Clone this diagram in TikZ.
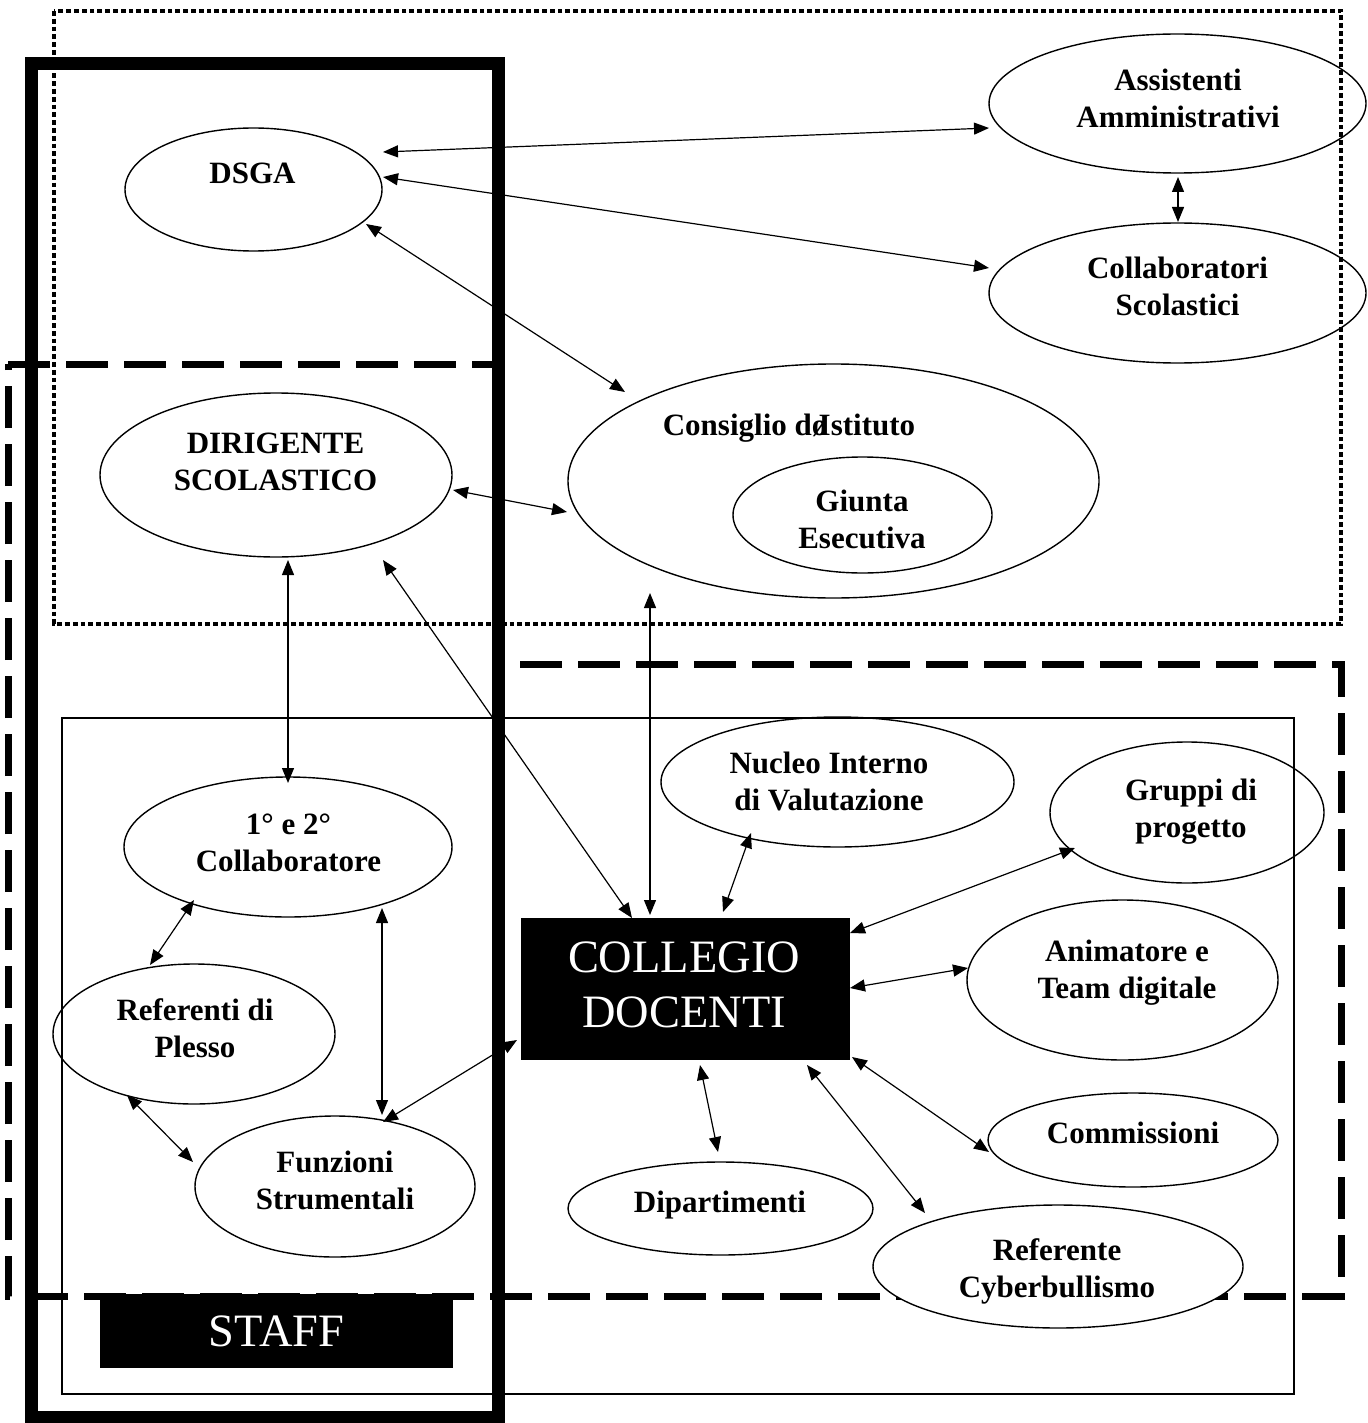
\documentclass[tikz,border=0pt]{standalone}
\usepackage{fontspec}
\setmainfont{Liberation Serif}
\usetikzlibrary{shapes.geometric,arrows.meta,calc}
\begin{document}
\begin{tikzpicture}[x=0.5pt,y=-0.5pt,
 ell/.style={ellipse,draw,line width=0.7pt,inner sep=0pt},
 lbl/.style={font=\fontsize{15.5}{18.5}\selectfont\bfseries,align=center,inner sep=0pt},
 bigt/.style={font=\fontsize{23.2}{27.5}\selectfont,align=center,inner sep=0pt,text=white},
 blackbox/.style={fill=black,inner sep=0pt},
 link/.style={line width=0.6pt,{Triangle[length=7.5pt,width=6pt]}-{Triangle[length=7.5pt,width=6pt]}},
 dotbox/.style={line width=2.4pt,dash pattern=on 2.4pt off 1.5pt},
 dashbox/.style={line width=3.5pt,dash pattern=on 21pt off 8pt},
 thinbox/.style={line width=0.6pt},
 thickbox/.style={line width=6.5pt}]
\fill[white] (0,0) rectangle (1368,1423);
\useasboundingbox (0,0) rectangle (1368,1423);

% frames
\draw[dotbox] (54,11) rectangle (1341,624);
\draw[dashbox] (8,364) -- (498,364) -- (498,664) -- (1341,664) -- (1341,1296) -- (8,1296) -- cycle;
\draw[thinbox] (62,718) rectangle (1294,1394);
\draw[thickbox] (31,64) rectangle (498,1417);

% black boxes
\node[blackbox,bigt,minimum width=176.5pt,minimum height=37pt] (staff) at (276.5,1331) {STAFF};
\node[blackbox,minimum width=164.5pt,minimum height=71pt] (collegio) at (685.5,989) {};
\node[bigt] (collegiot) at (684,984.5) {COLLEGIO\\DOCENTI};

% ellipses
\node[ell,minimum width=128.5pt,minimum height=61.5pt] (dsga) at (253.5,189.5) {};
\node[ell,minimum width=188.5pt,minimum height=69.5pt] (assist) at (1177.5,103.5) {};
\node[ell,minimum width=188.5pt,minimum height=70pt] (collab) at (1177.5,293) {};
\node[ell,minimum width=265.5pt,minimum height=117pt] (consiglio) at (833.5,481) {};
\node[ell,minimum width=129.5pt,minimum height=58pt] (giunta) at (862.5,515) {};
\node[ell,minimum width=176pt,minimum height=82pt] (dir) at (276,475) {};
\node[ell,minimum width=164pt,minimum height=70pt] (primo) at (288,847) {};
\node[ell,minimum width=141pt,minimum height=70pt] (refpl) at (194,1034) {};
\node[ell,minimum width=140pt,minimum height=70.5pt] (funz) at (335,1186.5) {};
\node[ell,minimum width=176.5pt,minimum height=65pt] (nucleo) at (837.5,782) {};
\node[ell,minimum width=137pt,minimum height=70.5pt] (gruppi) at (1187,812.5) {};
\node[ell,minimum width=155.5pt,minimum height=80pt] (anim) at (1122.5,980) {};
\node[ell,minimum width=145pt,minimum height=47pt] (comm) at (1133,1140) {};
\node[ell,minimum width=152.5pt,minimum height=46.5pt] (dip) at (720.5,1208.5) {};
\node[ell,fill=white,minimum width=185pt,minimum height=61.5pt] (refcyb) at (1058,1266.5) {};

% labels
\node[lbl] (dsgat) at (252.5,173.5) {DSGA};
\node[lbl] (assistt) at (1178,98) {Assistenti\\Amministrativi};
\node[lbl] (collabt) at (1177.5,286.5) {Collaboratori\\Scolastici};
\node[lbl] (consigliot) at (789,428) {Consiglio d\o\kern-0.28em Istituto};
\node[lbl] (giuntat) at (862,519.5) {Giunta\\Esecutiva};
\node[lbl] (dirt) at (275.5,462) {DIRIGENTE\\SCOLASTICO};
\node[lbl] (primot) at (288.5,842.5) {1° e 2°\\Collaboratore};
\node[lbl] (refplt) at (195,1028.5) {Referenti di\\Plesso};
\node[lbl] (funzt) at (335,1180.5) {Funzioni\\Strumentali};
\node[lbl] (nucleot) at (829,781) {Nucleo Interno\\di Valutazione};
\node[lbl] (gruppit) at (1191,811.5) {Gruppi di\\progetto};
\node[lbl] (animt) at (1127,973) {Animatore e\\Team digitale};
\node[lbl] (commt) at (1133,1133) {Commissioni};
\node[lbl] (dipt) at (720,1205.5) {Dipartimenti};
\node[lbl] (refcybt) at (1057,1271.5) {Referente\\Cyberbullismo};

% connectors
\draw[link] ($(dsga.center)+(129.5,-37.5)$) -- ($(assist.center)+(-188.5,24.5)$);
\draw[link] ($(dsga.center)+(129.5,-12.5)$) -- ($(collab.center)+(-188.5,-25)$);
\draw[link] ($(dsga.center)+(112.5,34.5)$) -- ($(consiglio.center)+(-208.5,-89)$);
\draw[link] ($(assist.center)+(0.5,73.5)$) -- ($(collab.center)+(0.5,-71)$);
\draw[link] ($(dir.center)+(177,15)$) -- ($(consiglio.center)+(-266.5,31)$);
\draw[link] ($(dir.center)+(12,85)$) -- ($(primo.center)+(0,-64)$);
\draw[link] ($(dir.center)+(107,85)$) -- ($(collegio.center)+(-53.5,-71)$);
\draw[link] ($(consiglio.center)+(-183.5,112)$) -- ($(collegio.center)+(-35.5,-74)$);
\draw[link] ($(nucleo.center)+(-86.5,51)$) -- ($(collegio.center)+(37.5,-77)$);
\draw[link] ($(gruppi.center)+(-112,35.5)$) -- ($(collegio.center)+(164.5,-56)$);
\draw[link] ($(anim.center)+(-154.5,-12)$) -- ($(collegio.center)+(164.5,-1)$);
\draw[link] ($(comm.center)+(-144,12)$) -- ($(collegio.center)+(166.5,68)$);
\draw[link] ($(dip.center)+(-2.5,-56.5)$) -- ($(collegio.center)+(14.5,76)$);
\draw[link] ($(refcyb.center)+(-133,-53.5)$) -- ($(collegio.center)+(121.5,76)$);
\draw[link] ($(funz.center)+(48,-64.5)$) -- ($(collegio.center)+(-168.5,51)$);
\draw[link] ($(primo.center)+(-94,53)$) -- ($(refpl.center)+(-44,-69)$);
\draw[link] ($(primo.center)+(94,61)$) -- ($(funz.center)+(47,-71.5)$);
\draw[link] ($(refpl.center)+(-67,61)$) -- ($(funz.center)+(-142,-24.5)$);
\end{tikzpicture}
\end{document}
